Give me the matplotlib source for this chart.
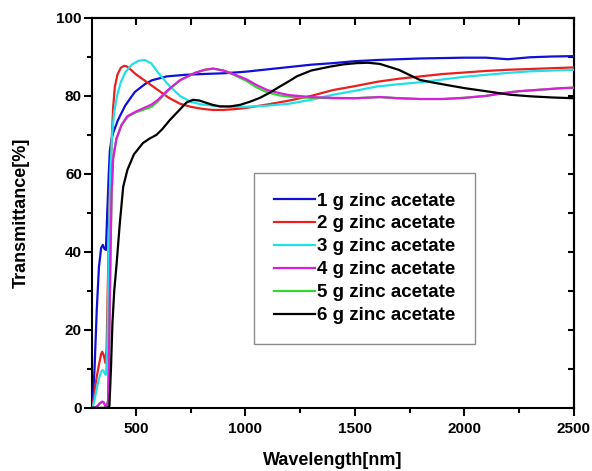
import matplotlib
matplotlib.use("Agg")
import matplotlib.pyplot as plt
from matplotlib.ticker import MultipleLocator

plt.rcParams["font.family"] = ["Liberation Sans", "DejaVu Sans"]
plt.rcParams["font.weight"] = "bold"

# transmittance spectra for films grown from different zinc acetate amounts
wl_1g = [300, 310, 320, 330, 340, 348, 355, 362, 368, 375, 380, 388, 395, 417, 450, 494,
         540, 572, 640, 723, 800, 900, 1000, 1100, 1200, 1300, 1400, 1500, 1600, 1700,
         1800, 1900, 2000, 2100, 2200, 2300, 2400, 2500]
t_1g = [0, 10, 25, 36, 41, 41.8, 40.8, 40.5, 50, 60, 66, 69, 70.5, 73.8, 77.5, 81,
        83, 84, 85, 85.4, 85.6, 85.8, 86.2, 86.8, 87.4, 88.0, 88.4, 88.9, 89.2, 89.4,
        89.6, 89.7, 89.8, 89.8, 89.4, 89.9, 90.1, 90.2]

wl_2g = [300, 310, 320, 330, 340, 345, 352, 360, 365, 372, 380, 388, 395, 403, 415, 430,
         445, 456, 470, 500, 550, 600, 650, 700, 750, 800, 850, 900, 950, 1000, 1100,
         1200, 1300, 1400, 1500, 1600, 1700, 1800, 1900, 2000, 2100, 2200, 2300, 2400, 2500]
t_2g = [0, 4, 8, 11, 13.8, 14.4, 13.5, 11.5, 15, 35, 55, 68, 77, 82.4, 85.5, 87.2,
        87.7, 87.6, 87, 85.5, 83.5, 81.5, 79.5, 78, 77.2, 76.7, 76.4, 76.4, 76.6, 76.9, 77.8,
        78.8, 80.0, 81.5, 82.5, 83.6, 84.4, 85, 85.6, 86, 86.4, 86.7, 86.9, 87.1, 87.3]

wl_3g = [300, 310, 320, 330, 340, 348, 355, 362, 368, 375, 382, 390, 400, 415, 430, 450,
         480, 510, 540, 570, 600, 650, 700, 750, 800, 850, 900, 950, 1000, 1100, 1200,
         1300, 1400, 1500, 1600, 1700, 1800, 1900, 2000, 2100, 2200, 2300, 2400, 2500]
t_3g = [0, 2, 5, 7.5, 9.2, 9.7, 9.0, 8.5, 15, 40, 60, 70, 76, 80.5, 83.5, 86,
        88, 89, 89.2, 88.3, 86, 82.7, 80, 78.5, 77.8, 77.5, 77.3, 77.2, 77.2, 77.5, 78,
        79, 80.3, 81.3, 82.4, 83, 83.5, 84.2, 84.9, 85.4, 85.9, 86.3, 86.5, 86.7]

wl_4g = [300, 320, 335, 345, 352, 360, 366, 372, 378, 383, 388, 395, 410, 433, 460, 500,
         540, 571, 600, 645, 700, 769, 814, 852, 900, 950, 1006, 1050, 1100, 1157, 1200,
         1300, 1400, 1500, 1614, 1700, 1800, 1900, 2000, 2100, 2177, 2250, 2350, 2450, 2500]
t_4g = [0, 0.3, 1.2, 1.6, 1.4, 0.5, 0.2, 2, 20, 40, 55, 64, 69, 72.5, 74.8, 76,
        77, 77.8, 79, 81.5, 84, 85.9, 86.7, 87.0, 86.5, 85.5, 84.2, 82.8, 81.5, 80.7, 80.2,
        79.7, 79.5, 79.4, 79.7, 79.4, 79.2, 79.2, 79.5, 80, 80.7, 81.2, 81.6, 82, 82.1]

wl_5g = wl_4g
t_5g = [0, 0.3, 1.2, 1.6, 1.4, 0.5, 0.2, 2, 20, 40, 55, 64, 69, 72.5, 74.6, 75.8,
        76.6, 77.2, 78.6, 81.3, 84, 85.9, 86.7, 87.0, 86.5, 85.3, 83.8, 82.2, 80.9, 80.1, 79.8,
        79.5, 79.4, 79.4, 79.7, 79.4, 79.2, 79.2, 79.5, 80, 80.7, 81.2, 81.6, 82, 82.1]

wl_6g = [300, 340, 370, 378, 385, 392, 400, 411, 425, 441, 460, 490, 531, 560, 593, 620,
         654, 700, 730, 760, 790, 822, 850, 883, 930, 975, 1020, 1066, 1110, 1157, 1200,
         1234, 1300, 1386, 1450, 1508, 1560, 1614, 1700, 1797, 1850, 1919, 2000, 2100, 2209,
         2300, 2400, 2500]
t_6g = [0, 0, 0, 0.5, 10, 22, 30, 37, 47, 56.7, 61, 65, 67.9, 69, 70, 71.5,
        73.8, 76.5, 78.3, 79, 78.8, 78.2, 77.7, 77.3, 77.3, 77.7, 78.5, 79.5, 80.8, 82.4, 83.8,
        85, 86.5, 87.5, 88.1, 88.4, 88.5, 88.2, 86.7, 84.1, 83.5, 82.8, 82, 81.2, 80.3,
        79.9, 79.6, 79.4]

series = [
    (wl_1g, t_1g, "#1010d8", "1 g zinc acetate", 3),
    (wl_2g, t_2g, "#e82020", "2 g zinc acetate", 3),
    (wl_3g, t_3g, "#20e0e8", "3 g zinc acetate", 3),
    (wl_4g, t_4g, "#d820d8", "4 g zinc acetate", 5),
    (wl_5g, t_5g, "#30d830", "5 g zinc acetate", 4),
    (wl_6g, t_6g, "#000000", "6 g zinc acetate", 6),
]

fig = plt.figure(figsize=(5.92, 4.71), dpi=100)
ax = fig.add_axes([0.156, 0.134, 0.813, 0.828])

for wl, t, color, label, z in series:
    ax.plot(wl, t, color=color, lw=1.6, label=label, zorder=z)

ax.set_xlim(300, 2500)
ax.set_ylim(0, 100)
ax.xaxis.set_major_locator(MultipleLocator(500))
ax.xaxis.set_minor_locator(MultipleLocator(250))
ax.yaxis.set_major_locator(MultipleLocator(20))
ax.yaxis.set_minor_locator(MultipleLocator(10))
ax.tick_params(which="major", direction="out", length=5.5, width=1.5, labelsize=11)
ax.tick_params(axis="x", which="major", pad=5)
ax.tick_params(axis="y", which="major", pad=2)
ax.tick_params(which="minor", direction="out", length=3.5, width=1.5)
for lab in ax.get_xticklabels() + ax.get_yticklabels():
    lab.set_fontweight("bold")
for sp in ax.spines.values():
    sp.set_linewidth(1.5)

# mirrored ticks pointing inward on top and right
top = ax.secondary_xaxis("top")
top.xaxis.set_major_locator(MultipleLocator(250))
top.tick_params(direction="in", length=5, width=1.5, labeltop=False)
right = ax.secondary_yaxis("right")
right.yaxis.set_major_locator(MultipleLocator(10))
right.tick_params(direction="in", length=4, width=1.5, labelright=False)
top.spines["top"].set_linewidth(1.5)
right.spines["right"].set_linewidth(1.5)

ax.set_xlabel("Wavelength[nm]", fontsize=13, fontweight="bold", labelpad=11)
ax.set_ylabel("Transmittance[%]", fontsize=13, fontweight="bold", labelpad=19)

leg = ax.legend(loc="upper left", bbox_to_anchor=(0.336, 0.603), borderaxespad=0,
                frameon=True, fancybox=False, edgecolor="#707070",
                prop={"size": 13.5, "weight": "bold"}, handlelength=2.2,
                handletextpad=0.1, labelspacing=0.31, borderpad=1.05)
leg.get_frame().set_linewidth(1.0)
for line in leg.get_lines():
    line.set_linewidth(1.6)

fig.savefig("out.png", dpi=100)
